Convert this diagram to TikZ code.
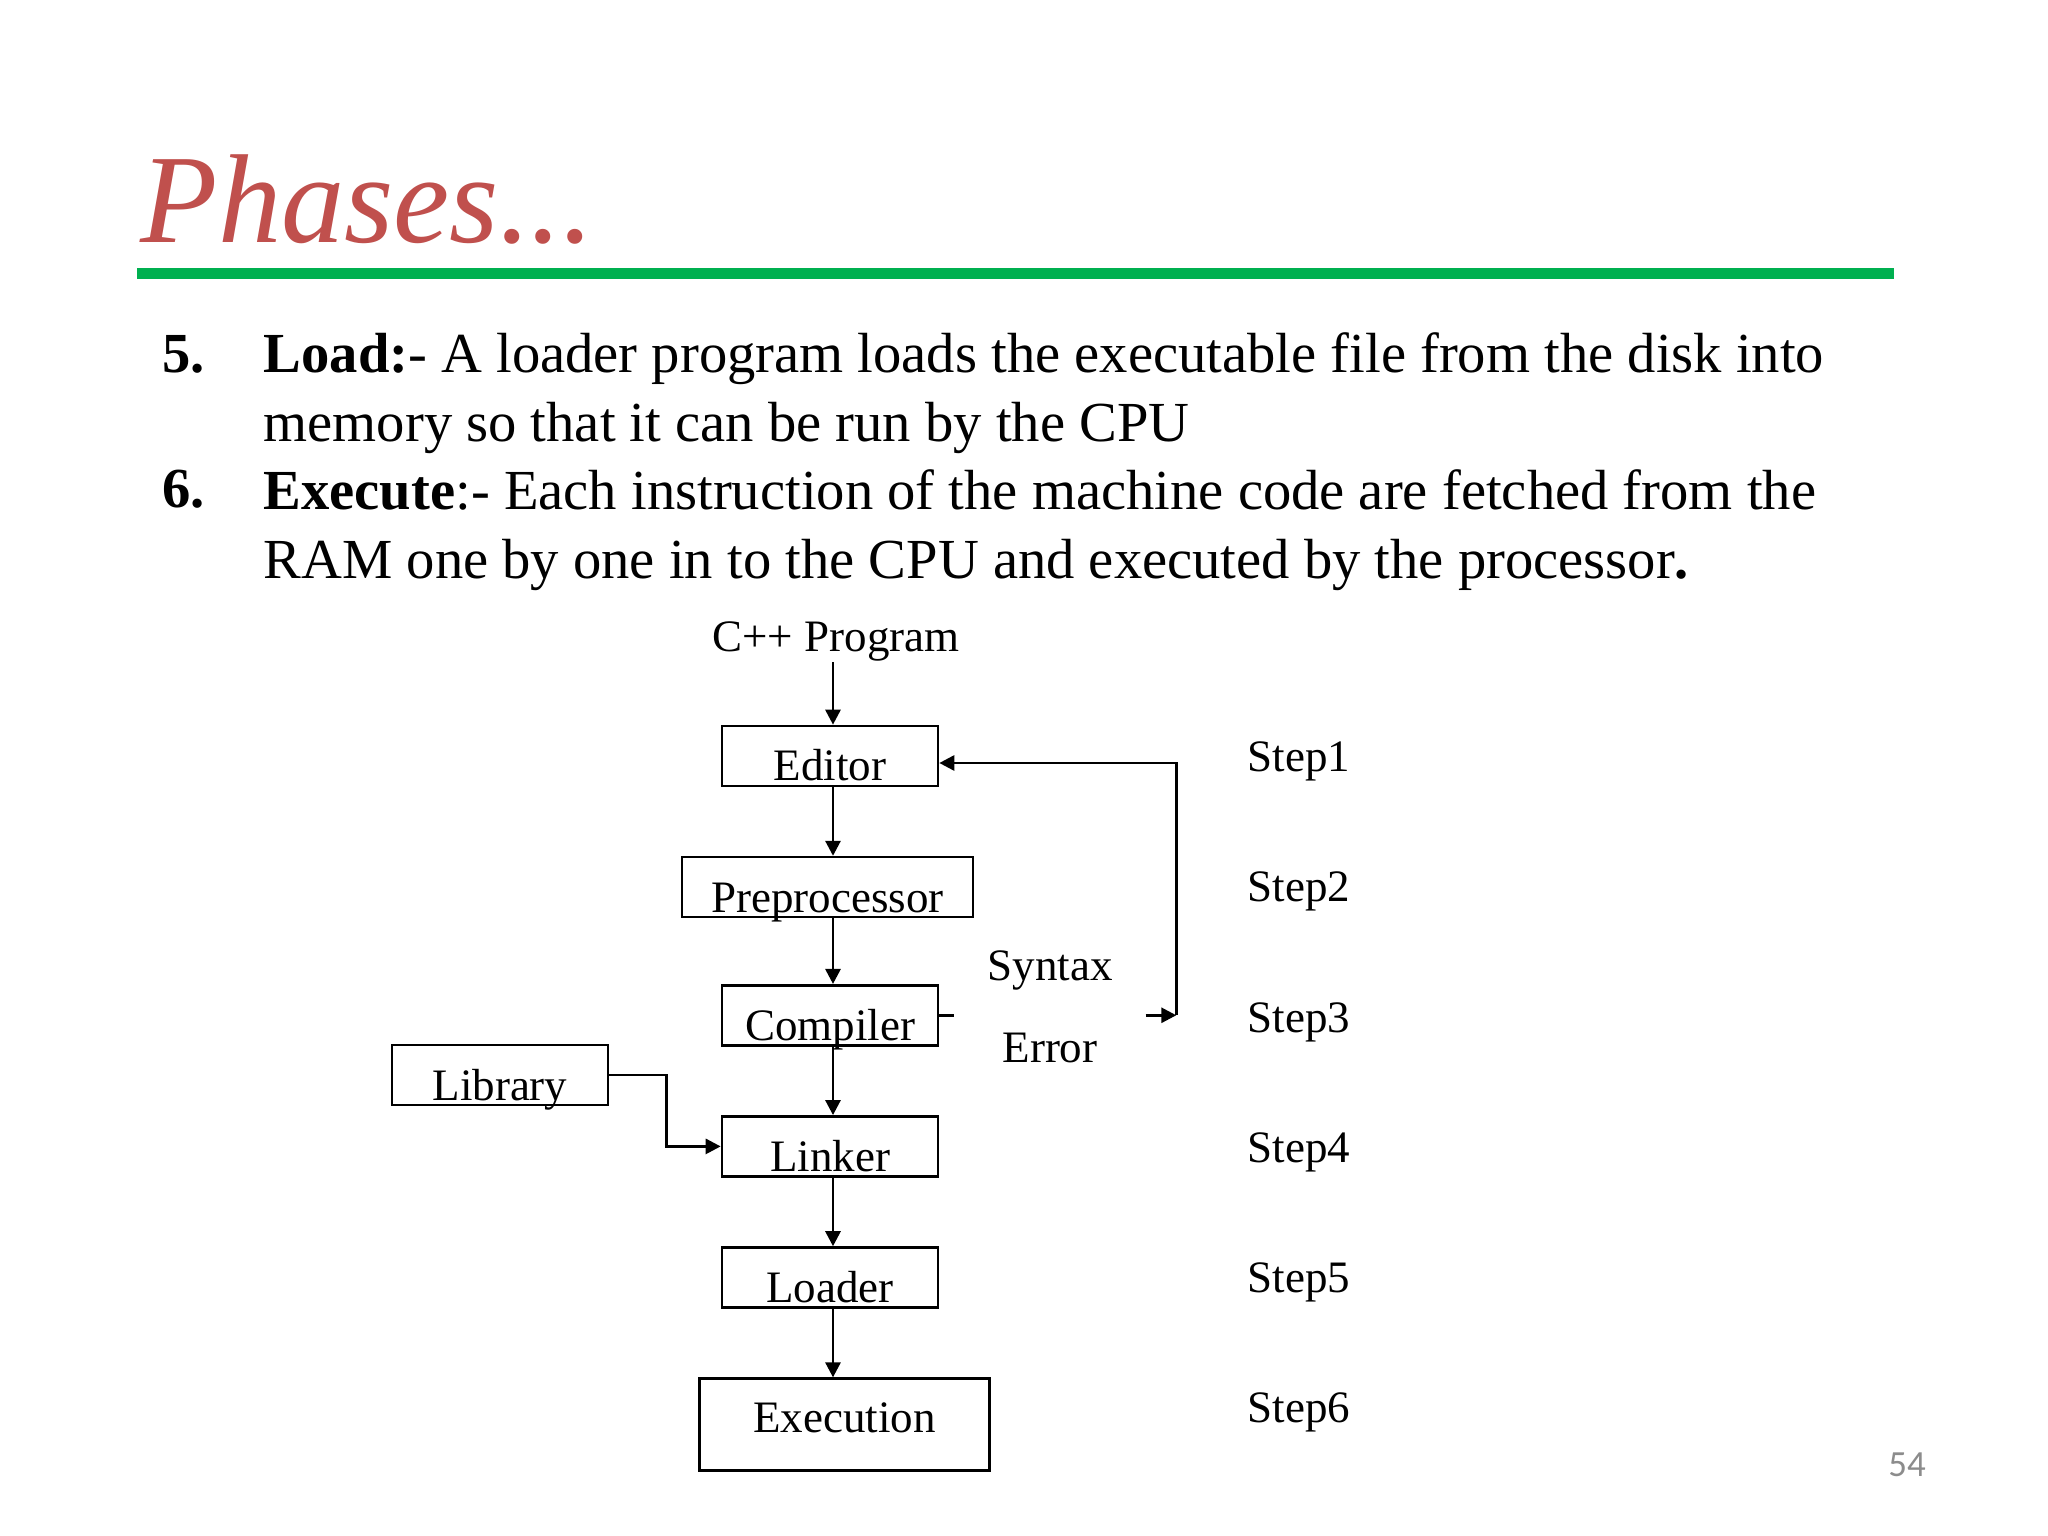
\documentclass[tikz,border=0pt]{standalone}
\usepackage{fontspec}
\setmainfont{Liberation Serif}
\newfontfamily\pagefont{Carlito}
\usepackage{xcolor}
\usetikzlibrary{arrows.meta, positioning}

\definecolor{titlered}{HTML}{C0504D}
\definecolor{rulegreen}{HTML}{00B050}
\definecolor{pagegray}{HTML}{8C8C8C}

\begin{document}
\begin{tikzpicture}[
    node distance = 0.685cm and 0.3cm,
    stage/.style = {
        rectangle, draw=black, line width=0.75pt,
        font=\fontsize{12.8}{15}\selectfont,
        inner xsep=0pt, inner ysep=0.05cm,
        text height=0.5cm, text depth=0pt,
        minimum width=2.16cm
    },
    widestage/.style = {stage, minimum width=2.91cm},
    execstage/.style = {stage, minimum width=2.90cm, text height=0.49cm, text depth=0.33cm},
    lbl/.style       = {font=\fontsize{12.8}{15}\selectfont, inner sep=0pt},
    body/.style      = {font=\fontsize{16.1}{19.4}\selectfont, inner sep=0pt, align=left},
    slidetitle/.style = {font=\fontsize{36}{40}\selectfont\itshape, text=titlered, inner sep=0pt},
    arr/.style       = {-{Triangle[length=0.15cm, width=0.15cm]}, line width=0.8pt}
]
\useasboundingbox (0,0) rectangle (20.48,-15.36);

%% Title
\node[slidetitle, anchor=base west] (ttl) at (1.40,-2.43) {Phases...};
\draw[rulegreen, line width=0.11cm] (1.37,-2.735) -- (18.94,-2.735);

%% Text
\node[body, anchor=base west] (n5) at (1.62,-3.73) {\textbf{5.}};
\node[body, anchor=base west] (t5) at (2.63,-4.41) {\textbf{Load:}- A loader program loads the executable file from the disk into\\memory so that it can be run by the CPU};
\node[body, anchor=base west] (n6) at (1.62,-5.08) {\textbf{6.}};
\node[body, anchor=base west] (t6) at (2.63,-5.78) {\textbf{Execute}:- Each instruction of the machine code are fetched from the\\RAM one by one in to the CPU and executed by the processor\textbf{.}};

%% Column Nodes
\node[lbl, anchor=base] (prog) at (8.36,-6.517) {C++ Program};
\node[stage] (editor) at (8.30,-7.56) {Editor};
\node[widestage, below=of editor, xshift=-0.025cm] (prep) {Preprocessor};
\node[stage, below=0.655cm of prep, xshift=0.025cm] (comp) {Compiler};
\node[stage, below=of comp] (link) {Linker};
\node[stage, below=of link] (load) {Loader};
\node[execstage, below=of load, xshift=0.145cm] (exec) {Execution};
\node[stage] (lib) at (5.00,-10.75) {Library};
\node[lbl, align=center, minimum width=1.9cm, font=\fontsize{12.8}{23.5}\selectfont] (err) at (10.50,-10.07) {Syntax\\Error};

%% Steps
\node[lbl, anchor=base west] (s1) at (12.47,-7.72) {Step1};
\node[lbl, anchor=base west] (s2) at (12.47,-9.02) {Step2};
\node[lbl, anchor=base west] (s3) at (12.47,-10.32) {Step3};
\node[lbl, anchor=base west] (s4) at (12.47,-11.62) {Step4};
\node[lbl, anchor=base west] (s5) at (12.47,-12.92) {Step5};
\node[lbl, anchor=base west] (s6) at (12.47,-14.22) {Step6};

\node[font=\pagefont\fontsize{10.5}{12}\selectfont, text=pagegray] (pg) at (19.07,-14.65) {54};

%% Arrows
\draw[arr] ([xshift=0.03cm]editor.north |- prog.south) -- ([xshift=0.03cm]editor.north);
\draw[arr] ([xshift=0.03cm]editor.south) -- ([xshift=0.03cm]editor.south |- prep.north);
\draw[arr] ([xshift=0.03cm]comp.north |- prep.south) -- ([xshift=0.03cm]comp.north);
\draw[arr] ([xshift=0.03cm]comp.south) -- ([xshift=0.03cm]link.north);
\draw[arr] ([xshift=0.03cm]link.south) -- ([xshift=0.03cm]load.north);
\draw[arr] ([xshift=0.03cm]load.south) -- ([xshift=0.03cm]load.south |- exec.north);
\draw[arr] (lib.east) -- ++(0.57,0) |- (link.west);

%% Syntax error loop
\coordinate (fb) at ([xshift=2.37cm]comp.east);
\draw[line width=0.8pt] (comp.east) -- (comp.east -| err.west);
\draw[arr] (comp.east -| err.east) -- (fb);
\draw[arr] (fb) |- ([yshift=-0.07cm]editor.east);

\end{tikzpicture}
\end{document}
